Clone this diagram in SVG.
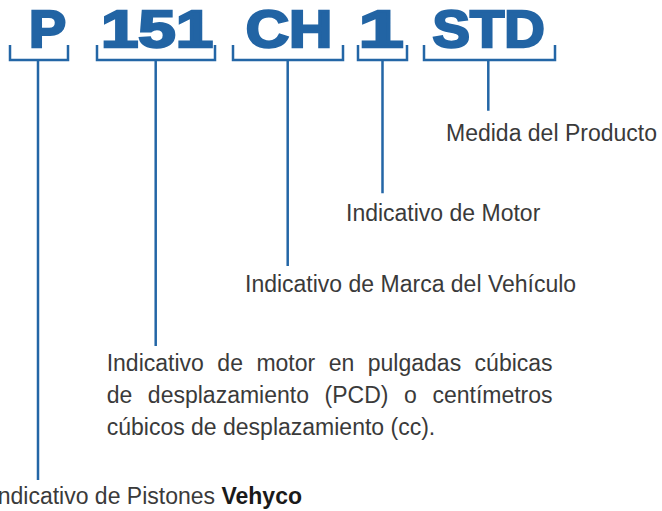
<svg xmlns="http://www.w3.org/2000/svg" width="662" height="511" viewBox="0 0 662 511">
<style>
.code{font-family:"Liberation Sans",Arial,sans-serif;font-weight:bold;font-size:51px;fill:#2264a4;stroke:#2264a4;stroke-width:2.4px;stroke-linejoin:miter;text-anchor:middle}
.br{fill:none;stroke:#2366a6;stroke-width:2.5;stroke-linecap:butt;stroke-linejoin:miter}
.lbl{font-family:"Liberation Sans",Arial,sans-serif;font-size:23px;fill:#3a3a3a}
</style>
<rect width="662" height="511" fill="#ffffff"/>
<g id="code-P"><text class="code" transform="translate(47.6,47) scale(1.09,1)">P</text></g>
<g id="code-151"><text class="code" transform="translate(157,47) scale(1.318,1)">151</text></g>
<g id="code-CH"><text class="code" transform="translate(289,47) scale(1.176,1)">CH</text></g>
<g id="code-1"><text class="code" transform="translate(381,47) scale(1.59,1)">1</text></g>
<g id="code-STD"><text class="code" transform="translate(488.6,47) scale(1.10,1)">STD</text></g>
<g id="connectors">
<path class="br" d="M10,45 V60 H68 V45 M38,60 V480"/>
<path class="br" d="M97,45 V60 H215 V45 M155.7,60 V346"/>
<path class="br" d="M233,45 V60 H343 V45 M287.7,60 V266"/>
<path class="br" d="M358,45 V60 H407 V45 M382.5,60 V193.3"/>
<path class="br" d="M424,45 V60 H555 V45 M488.3,60 V110.7"/>
</g>
<g id="label-STD"><text class="lbl" x="446" y="140.7">Medida del Producto</text></g>
<g id="label-1"><text class="lbl" x="346" y="221">Indicativo de Motor</text></g>
<g id="label-CH"><text class="lbl" x="245" y="291.7">Indicativo de Marca del Vehículo</text></g>
<g id="label-151">
<text class="lbl" x="106.7" y="371" word-spacing="7.1">Indicativo de motor en pulgadas cúbicas</text>
<text class="lbl" x="106.7" y="403" word-spacing="9.2">de desplazamiento (PCD) o centímetros</text>
<text class="lbl" x="106.7" y="435">cúbicos de desplazamiento (cc).</text>
</g>
<g id="label-P"><text class="lbl" x="302" y="503.5" text-anchor="end">Indicativo de Pistones <tspan font-weight="bold" fill="#1a1a1a">Vehyco</tspan></text></g>
</svg>
